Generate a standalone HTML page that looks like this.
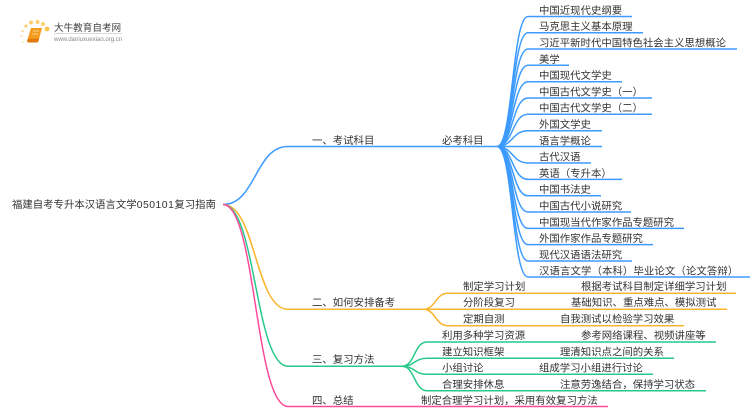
<!DOCTYPE html>
<html><head><meta charset="utf-8">
<style>
html,body{margin:0;padding:0;background:#fff;width:750px;height:410px;overflow:hidden}
svg{display:block;filter:blur(.35px)}
text{font-family:"Liberation Sans","Noto Sans CJK SC",sans-serif;font-size:10.4px;fill:#333}
.b path,.o path,.g path,.p path{fill:none;stroke-width:1.5}
.b path{stroke:#3d9bff}.o path{stroke:#fbb42e}.g path{stroke:#27c98a}.p path{stroke:#ff4a9c}
</style></head><body>
<svg width="750" height="410" viewBox="0 0 750 410" xmlns="http://www.w3.org/2000/svg">
<!-- logo -->
<g fill="#fcd06a">
<circle cx="47" cy="29" r="2.4" fill="#fbc44e"/><circle cx="43" cy="24" r="2"/><circle cx="37.5" cy="22" r="2"/><circle cx="31" cy="22.5" r="2"/><circle cx="26" cy="26" r="1.6"/><circle cx="22.5" cy="31" r="1.3" opacity=".7"/><circle cx="21.5" cy="36" r="1.1" opacity=".6"/><circle cx="23.5" cy="42" r="1" opacity=".5"/>
</g>
<path d="M31 28h11l-3.5 13H27z" fill="#f59c1e"/><path d="M27 41l1.2-2.2H39.2L38.5 41 37.5 42.5H28z" fill="#e2770f"/><path d="M33 31h6M32.2 34h6" stroke="#fff" stroke-width=".8" opacity=".7"/>
<text x="54" y="31" style="font-size:9.6px;fill:#444">大牛教育自考网</text>
<path d="M54 33.5h68" stroke="#ccc" stroke-width=".7"/>
<text x="54" y="41" style="font-size:6px;fill:#888">www.daniuxuexiao.org.cn</text>
<!-- root -->
<text x="12" y="208">福建自考专升本汉语言文学<tspan letter-spacing=".5">050101</tspan>复习指南</text>
<g class="b">
<path d="M223 204.5C256 204.5 255 146.5 288 146.5H497"/>
<path d="M497 146.5C513 146.5 512 16.5 528 16.5H632"/>
<path d="M497 146.5C513 146.5 512 32.8 528 32.8H643"/>
<path d="M497 146.5C513 146.5 512 49 528 49H737"/>
<path d="M497 146.5C513 146.5 512 65.3 528 65.3H569"/>
<path d="M497 146.5C513 146.5 512 81.7 528 81.7H622"/>
<path d="M497 146.5C513 146.5 512 98 528 98H652"/>
<path d="M497 146.5C513 146.5 512 114.3 528 114.3H652"/>
<path d="M497 146.5C513 146.5 512 130.7 528 130.7H602"/>
<path d="M497 146.5C513 146.5 512 146.5 528 146.5H602"/>
<path d="M497 146.5C513 146.5 512 163 528 163H591"/>
<path d="M497 146.5C513 146.5 512 179.4 528 179.4H622"/>
<path d="M497 146.5C513 146.5 512 195.8 528 195.8H601"/>
<path d="M497 146.5C513 146.5 512 212 528 212H631"/>
<path d="M497 146.5C513 146.5 512 228.4 528 228.4H684"/>
<path d="M497 146.5C513 146.5 512 244.6 528 244.6H653"/>
<path d="M497 146.5C513 146.5 512 261 528 261H632"/>
<path d="M497 146.5C513 146.5 512 277 528 277H750"/>
</g>
<g class="o">
<path d="M223 204.5C256 204.5 255 309.3 288 309.3H423"/>
<path d="M423 309.3C436 309.3 435 293.3 448 293.3H736"/>
<path d="M423 309.3H727"/>
<path d="M423 309.3C436 309.3 435 325.7 448 325.7H684"/>
</g>
<g class="g">
<path d="M223 204.5C256 204.5 255 366.3 288 366.3H402"/>
<path d="M402 366.3C415 366.3 414 342 427 342H716"/>
<path d="M402 366.3C415 366.3 414 358.3 427 358.3H674"/>
<path d="M402 366.3C415 366.3 414 374.3 427 374.3H653"/>
<path d="M402 366.3C415 366.3 414 390.7 427 390.7H706"/>
</g>
<g class="p">
<path d="M223 204.5C256 204.5 255 406.5 288 406.5H608"/>
</g>
<text x="312" y="144">一、考试科目</text>
<text x="442" y="144">必考科目</text>
<text x="312" y="306">二、如何安排备考</text>
<text x="312" y="363">三、复习方法</text>
<text x="312" y="404">四、总结</text>
<text x="421" y="404">制定合理学习计划，采用有效复习方法</text>
<text x="539" y="14">中国近现代史纲要</text>
<text x="539" y="30">马克思主义基本原理</text>
<text x="539" y="46.5">习近平新时代中国特色社会主义思想概论</text>
<text x="539" y="63">美学</text>
<text x="539" y="79">中国现代文学史</text>
<text x="539" y="95.5">中国古代文学史（一）</text>
<text x="539" y="111.5">中国古代文学史（二）</text>
<text x="539" y="128">外国文学史</text>
<text x="539" y="144.5">语言学概论</text>
<text x="539" y="160.5">古代汉语</text>
<text x="539" y="177">英语（专升本）</text>
<text x="539" y="193">中国书法史</text>
<text x="539" y="209.5">中国古代小说研究</text>
<text x="539" y="226">中国现当代作家作品专题研究</text>
<text x="539" y="242">外国作家作品专题研究</text>
<text x="539" y="258.5">现代汉语语法研究</text>
<text x="539" y="274.5" letter-spacing=".1">汉语言文学（本科）毕业论文（论文答辩）</text>
<text x="463" y="290">制定学习计划</text>
<text x="581" y="290">根据考试科目制定详细学习计划</text>
<text x="463" y="306">分阶段复习</text>
<text x="571" y="306">基础知识、重点难点、模拟测试</text>
<text x="463" y="322.5">定期自测</text>
<text x="560" y="322.5">自我测试以检验学习效果</text>
<text x="442" y="339">利用多种学习资源</text>
<text x="581" y="339">参考网络课程、视频讲座等</text>
<text x="442" y="355.5">建立知识框架</text>
<text x="560" y="355.5">理清知识点之间的关系</text>
<text x="442" y="371.5">小组讨论</text>
<text x="539" y="371.5">组成学习小组进行讨论</text>
<text x="442" y="388">合理安排休息</text>
<text x="560" y="388">注意劳逸结合，保持学习状态</text>
</svg>
</body></html>
